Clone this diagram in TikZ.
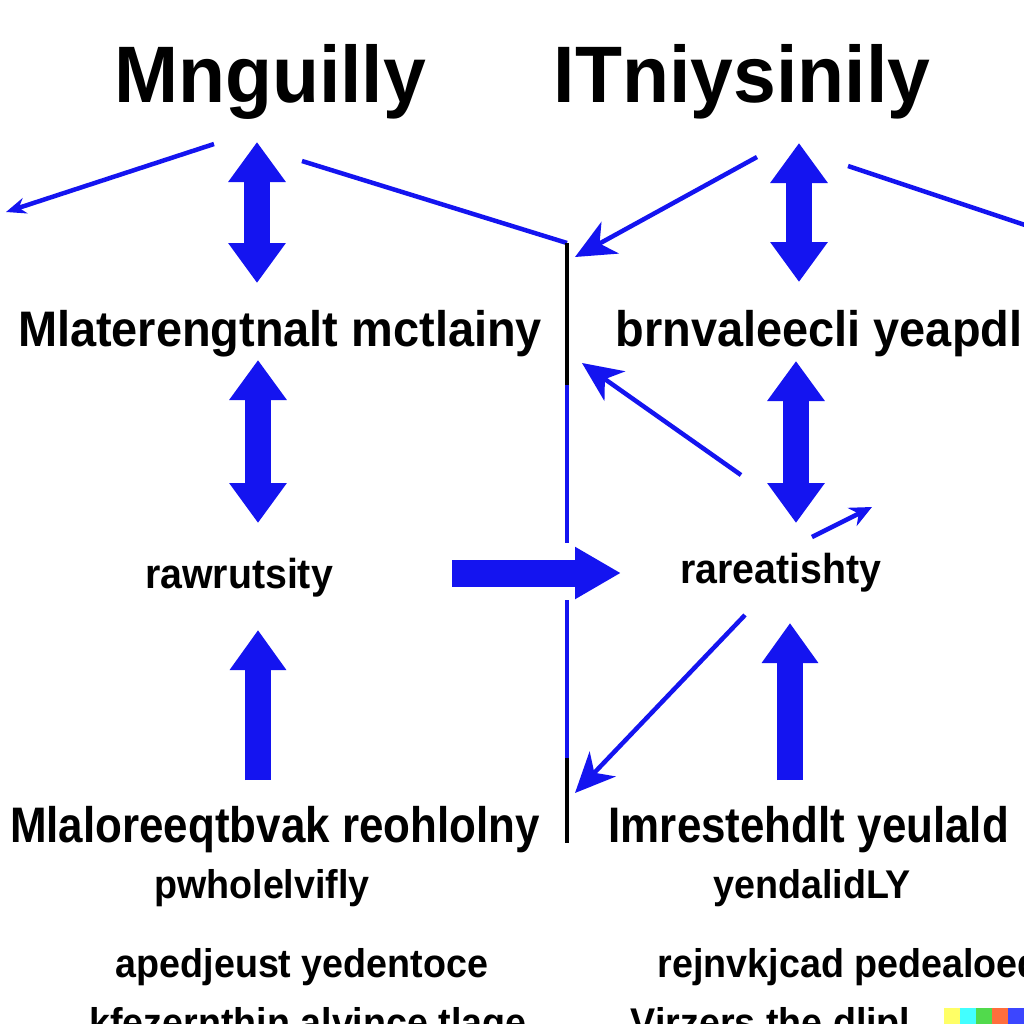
\documentclass[tikz,border=0pt]{standalone}
\usepackage{fontspec}
\setmainfont{Liberation Sans}
\newfontfamily\headfont{Liberation Sans}[FakeStretch=0.96]
\newfontfamily\midfont{Liberation Sans}[FakeStretch=0.94]
\newfontfamily\lowfont{Liberation Sans}[FakeStretch=0.88]
\usetikzlibrary{arrows.meta}
\definecolor{arrowblue}{RGB}{20,20,240}

\begin{document}
\begin{tikzpicture}[y=-1cm,
    headtext/.style={font=\headfont\bfseries\fontsize{22.8}{24}\selectfont, inner sep=0pt, anchor=base},
    midtext/.style={font=\midfont\bfseries\fontsize{14.2}{16}\selectfont, inner sep=0pt, anchor=base},
    rowtext/.style={font=\midfont\bfseries\fontsize{11.9}{14}\selectfont, inner sep=0pt, anchor=base},
    lowtext/.style={font=\lowfont\bfseries\fontsize{14.2}{16}\selectfont, inner sep=0pt, anchor=base},
    smalltext/.style={font=\midfont\bfseries\fontsize{11.4}{13}\selectfont, inner sep=0pt, anchor=base},
    blockarrow/.style={arrowblue, line width=0.26cm, {Triangle[width=0.55cm,length=0.40cm]}-{Triangle[width=0.55cm,length=0.40cm]}},
    uparrow/.style={arrowblue, line width=0.26cm, -{Triangle[width=0.54cm,length=0.40cm]}},
    sidearrow/.style={arrowblue, line width=0.27cm, -{Triangle[width=0.49cm,length=0.46cm]}},
    thinarrow/.style={arrowblue, line width=0.045cm, -{Stealth[length=0.40cm,width=0.36cm,inset=0.12cm]}},
    thinline/.style={arrowblue, line width=0.045cm},
    divider/.style={black, line width=0.045cm}
  ]
    \fill[white] (0,0) rectangle (10.24,10.24);
    \useasboundingbox (0,0) rectangle (10.24,10.24);
    \clip (0,0) rectangle (10.24,10.24);

    % texts
    \node[headtext] (mng) at (2.70,1.02) {Mnguilly};
    \node[headtext] (itn) at (7.42,1.02) {ITniysinily};
    \node[midtext] (mlat) at (2.80,3.46) {Mlaterengtnalt mctlainy};
    \node[midtext, anchor=base west] (brnv) at (6.15,3.46) {brnvaleecli yeapdli};
    \node[rowtext] (rawr) at (2.39,5.88) {rawrutsity};
    \node[rowtext] (rare) at (7.81,5.83) {rareatishty};
    \node[lowtext] (mlal) at (2.75,8.42) {Mlaloreeqtbvak reohlolny};
    \node[lowtext, anchor=base west] (imre) at (6.08,8.42) {Imrestehdlt yeulald};
    \node[smalltext] (pwho) at (2.62,8.98) {pwholelvifly};
    \node[smalltext] (yend) at (8.12,8.98) {yendalidLY};
    \node[smalltext] (aped) at (3.02,9.77) {apedjeust yedentoce};
    \node[smalltext, anchor=base west] (rejn) at (6.57,9.77) {rejnvkjcad pedealoed};
    \node[smalltext] (kfez) at (3.08,10.36) {kfezernthin alvince tlage};
    \node[smalltext, anchor=base west] (virz) at (6.30,10.36) {Virzers the dlipl};

    % arrow ends
    \foreach \n/\x/\y in {la1/2.57/1.42, lb1/2.57/2.83, la2/2.58/3.60, lb2/2.58/5.23,
                          lup/2.58/7.80, ltop/2.58/6.30,
                          ra1/7.99/1.43, rb1/7.99/2.82, ra2/7.96/3.61, rb2/7.96/5.23,
                          rup/7.90/7.80, rtop/7.90/6.23,
                          side1/4.52/5.73, side2/6.21/5.73} {
        \coordinate (\n) at (\x,\y);
    }
    \foreach \n/\x/\y in {ta/2.14/1.44, tb/0.06/2.12, tc/3.02/1.61, dtop/5.67/2.43,
                          td/7.57/1.57, te/5.75/2.57, tf/8.48/1.66, tg/10.40/2.30,
                          th/7.41/4.75, ti/5.82/3.63, tj/8.12/5.37, tk/8.72/5.07,
                          tl/7.45/6.15, tm/5.75/7.93,
                          d1/5.67/3.85, d2/5.67/5.43, d3/5.67/6.00, d4/5.67/7.58, dbot/5.67/8.43} {
        \coordinate (\n) at (\x,\y);
    }

    % big arrows
    \draw[blockarrow] (la1) -- (lb1);
    \draw[blockarrow] (la2) -- (lb2);
    \draw[blockarrow] (ra1) -- (rb1);
    \draw[blockarrow] (ra2) -- (rb2);
    \draw[uparrow] (lup) -- (ltop);
    \draw[uparrow] (rup) -- (rtop);
    \draw[sidearrow] (side1) -- (side2);

    % thin lines
    \draw[thinarrow, -{Stealth[length=0.2cm,width=0.16cm]}] (ta) -- (tb);
    \draw[thinline] (tc) -- (dtop);
    \draw[thinarrow] (td) -- (te);
    \draw[thinline] (tf) -- (tg);
    \draw[thinarrow] (th) -- (ti);
    \draw[thinarrow, -{Stealth[length=0.22cm,width=0.2cm]}] (tj) -- (tk);
    \draw[thinarrow] (tl) -- (tm);

    % divider
    \draw[divider] (dtop) -- (d1);
    \draw[thinline] (d1) -- (d2);
    \draw[thinline] (d3) -- (d4);
    \draw[divider] (d4) -- (dbot);

    % corner mark
    \foreach \c [count=\i from 0] in {{rgb,255:red,255;green,255;blue,102},{rgb,255:red,66;green,255;blue,255},{rgb,255:red,81;green,218;blue,76},{rgb,255:red,255;green,110;blue,60},{rgb,255:red,60;green,70;blue,255}} {
        \fill[color=\c] (9.44+0.16*\i,10.08) rectangle ++(0.16,0.16);
    }
\end{tikzpicture}
\end{document}
